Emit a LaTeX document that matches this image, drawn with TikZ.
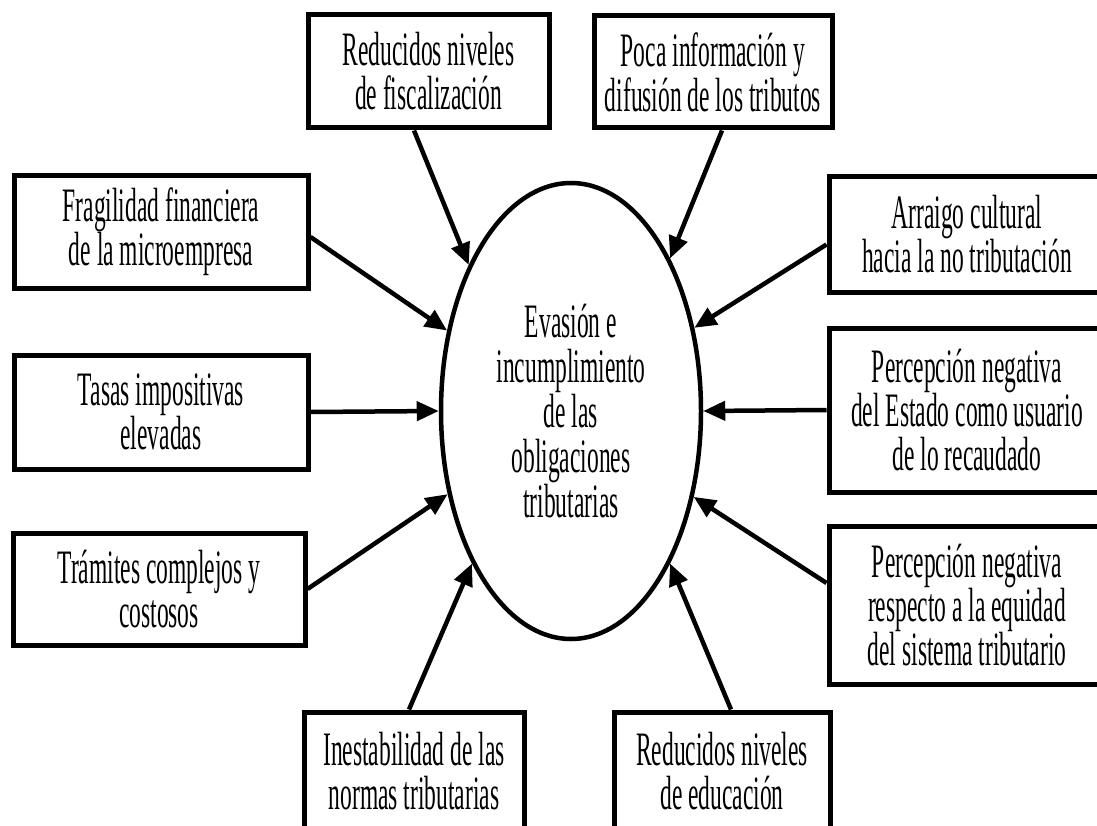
\documentclass[tikz,border=0pt]{standalone}
\usepackage{fontspec}
\newfontfamily\condfont[FakeStretch=0.49]{Liberation Serif}
\usetikzlibrary{shapes.geometric,arrows.meta}
\tikzstyle{causa} = [draw, line width=5pt, inner sep=0pt, align=center,
    font=\condfont\fontsize{48}{44}\selectfont]
\tikzstyle{efecto} = [draw, ellipse, line width=4.5pt, inner sep=0pt, align=center,
    minimum width=260pt, minimum height=456pt, font=\condfont\fontsize{48}{45}\selectfont]
\tikzstyle{flecha} = [line width=4.5pt, -{Triangle[length=22pt,width=19pt]}]
\newcommand{\causa}[5]{
    \node(#1) at (#2) [causa, minimum width=#3pt, minimum height=#4pt] {#5};
}

\begin{document}
\begin{tikzpicture}[x=1pt,y=-1pt]
	\path[fill=white, use as bounding box] (0,0) rectangle (1097,826);
	
	\node(evasion) at (571,411) [efecto] {Evasión e\\incumplimiento\\de las\\obligaciones\\tributarias};
	
	% causas de arriba y de abajo
	\causa{redfis}{428.5,71.5}{241}{113}{Reducidos niveles\\de fiscalización}
	\causa{poca}{713,72}{238}{112}{Poca información y\\difusión de los tributos}
	\causa{inest}{414,771}{220}{118}{Inestabilidad de las\\normas tributarias}
	\causa{educ}{722,771}{216}{118}{Reducidos niveles\\de educación}
	
	% causas de la izquierda
	\causa{fragil}{161,232}{294}{112}{Fragilidad financiera\\de la microempresa}
	\causa{tasas}{161,412}{294}{114}{Tasas impositivas\\elevadas}
	\causa{tramites}{159,589}{292}{112}{Trámites complejos y\\costosos}
	
	% causas de la derecha
	\causa{arraigo}{967,234.5}{276}{115}{Arraigo cultural\\hacia la no tributación}
	\causa{perc1}{967,410}{276}{164}{Percepción negativa\\del Estado como usuario\\de lo recaudado}
	\causa{perc2}{967,605}{276}{158}{Percepción negativa\\respecto a la equidad\\del sistema tributario}
	
	\draw[flecha] ([xshift=-14.5pt]redfis.south) -- (evasion.125);
	\draw[flecha] ([xshift=9pt]poca.south) -- (evasion.57);
	\draw[flecha] ([yshift=-5pt]fragil.east) -- (evasion.147);
	\draw[flecha] (tasas.east) -- (evasion.180);
	\draw[flecha] (tramites.east) -- (evasion.214);
	\draw[flecha] ([xshift=-5pt]inest.north) -- (evasion.237);
	\draw[flecha] ([xshift=9pt]educ.north) -- (evasion.303);
	\draw[flecha] ([yshift=-10pt]arraigo.west) -- (evasion.34);
	\draw[flecha] (perc1.west) -- (evasion.0);
	\draw[flecha] ([yshift=22pt]perc2.west) -- (evasion.325);
\end{tikzpicture}
\end{document}
